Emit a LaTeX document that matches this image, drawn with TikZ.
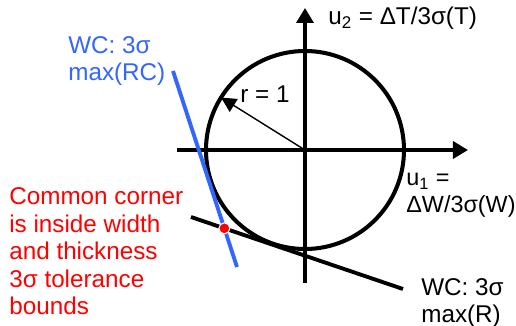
\documentclass[tikz,border=0pt]{standalone}
\usepackage{fontspec}
\setmainfont{Liberation Sans}
\usetikzlibrary{arrows.meta,intersections}
\definecolor{wcblue}{RGB}{51,102,255}

\begin{document}
\begin{tikzpicture}[x=1cm,y=1cm,font=\fontsize{13.8}{15.7}\selectfont]
\useasboundingbox (-6.1,-3.52) rectangle (4.22,3.0);
\coordinate (O) at (0,0);
% axes
\draw[line width=2pt,-{Triangle[length=0.3cm,width=0.34cm]}] (-2.56,0) -- (3.26,0) coordinate (u1end);
\draw[line width=2pt,-{Triangle[length=0.3cm,width=0.34cm]}] (0,-2.66) -- (0,2.84) coordinate (u2end);
% unit circle and radius
\draw[line width=2.3pt] (O) circle (1.98);
\draw[line width=0.8pt,-{Triangle[length=0.3cm,width=0.3cm]}] (O) -- (148:1.98) coordinate (rtip);
% worst case bounds
\draw[wcblue,line width=2.2pt,name path=rc] (-2.64,1.58) coordinate (rcA) -- (-1.36,-2.34) coordinate (rcB);
\draw[line width=2.2pt,name path=r] (-2.28,-1.34) coordinate (rA) -- (1.96,-2.78) coordinate (rB);
\path[name intersections={of=rc and r,by=corner}];
\fill[red,draw=white,line width=0.6pt] (corner) circle (0.11);
% labels (base = last line)
\node[anchor=base west,inner sep=0pt] (u2lab) at (0.46,2.5) {u\textsubscript{2} = ΔT/3σ(T)};
\node[anchor=base west,inner sep=0pt] (rlab) at (-1.3,0.94) {r = 1};
\node[anchor=base west,inner sep=0pt,align=left,font=\fontsize{13.3}{15.7}\selectfont] (u1lab) at (2.02,-1.26) {u\textsubscript{1} =\\ΔW/3σ(W)};
\node[anchor=base west,inner sep=0pt,align=left] (rclab) at (-4.74,1.38) {\color{wcblue}WC: 3σ\\\color{wcblue}max(RC)};
\node[anchor=base west,inner sep=0pt,align=left] (rlab2) at (2.32,-3.46) {WC: 3σ\\max(R)};
\node[anchor=base west,inner sep=0pt,align=left,text=red] (cornerlab) at (-5.92,-3.3) {Common corner\\is inside width\\and thickness\\3σ tolerance\\bounds};
\end{tikzpicture}
\end{document}
